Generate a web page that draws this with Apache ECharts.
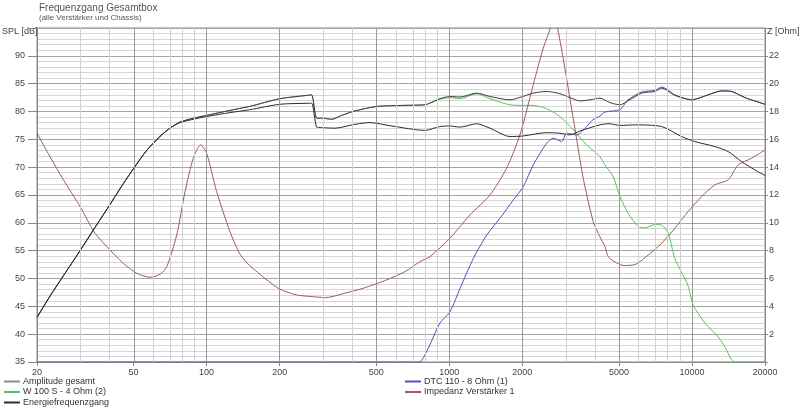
<!DOCTYPE html>
<html><head><meta charset="utf-8">
<script src="https://cdn.jsdelivr.net/npm/echarts@6/dist/echarts.min.js"></script>
<style>html,body{margin:0;padding:0;background:#fff}#c{width:800px;height:410px}</style>
</head><body><div id="c"></div>
<script>
const FONT = "'Liberation Sans', Arial, sans-serif";

// Axis tick labels / grid lines (Hz)
const xLabelFreqs = [20, 50, 100, 200, 500, 1000, 2000, 5000, 10000, 20000];
const gridMajorFreqs = [50, 100, 200, 500, 1000, 2000, 5000, 10000];
const gridMinorFreqs = [30, 40, 60, 70, 80, 90, 300, 400, 600, 700, 800, 900, 3000, 4000, 6000, 7000, 8000, 9000];

// Amplitude gesamt (dB)
const ampFreq = [20, 22.6, 25.7, 30.1, 34.7, 40, 45.3, 50.1, 56.6, 64.2, 70.6, 77.7, 88.1, 100, 124.8, 150, 200.6, 266, 271, 284, 290, 300, 327.6, 360, 408.7, 502, 650, 794, 832, 915, 1006, 1107, 1297, 1471, 1778, 2012, 2212, 2519, 2857, 3142, 3455, 3800, 4175, 4592, 5050, 5447, 6202, 7036, 7500, 8507, 9972, 11668, 13250, 14570, 16530, 20000];
const ampValues = [43.0, 46.8, 50.5, 55.0, 59.2, 63.3, 67.0, 69.8, 73.0, 75.5, 77.0, 78.1, 78.8, 79.3, 80.2, 80.9, 82.3, 82.95, 83.0, 78.8, 78.8, 78.8, 78.6, 79.3, 80.1, 80.9, 81.1, 81.2, 81.5, 82.3, 82.7, 82.6, 83.3, 82.7, 82.1, 82.7, 83.3, 83.6, 83.2, 82.5, 81.9, 82.1, 82.4, 81.6, 81.2, 81.9, 83.3, 83.6, 84.2, 82.9, 82.1, 83.0, 83.7, 83.6, 82.5, 81.3];

// Energiefrequenzgang (dB)
const energyFreq = [20, 22.6, 25.7, 30.1, 34.7, 40, 45.3, 50.1, 56.6, 64.2, 70.6, 77.7, 88.1, 100, 124.8, 150, 200.6, 266, 271, 284, 290, 300, 338, 408.7, 471, 579, 794, 915, 1006, 1107, 1297, 1471, 1778, 2012, 2519, 2857, 3142, 3455, 4175, 4548, 5050, 5877, 7500, 9068, 10285, 12432, 14111, 16017, 18172, 20000];
const energyValues = [43.0, 46.8, 50.5, 55.0, 59.2, 63.3, 67.0, 69.8, 73.0, 75.5, 77.0, 78.0, 78.6, 79.1, 79.8, 80.3, 81.3, 81.48, 81.5, 77.2, 77.15, 77.1, 77.0, 77.7, 78.0, 77.4, 76.6, 77.3, 77.4, 77.2, 77.8, 77.0, 75.5, 75.6, 76.2, 76.1, 75.8, 76.5, 77.6, 77.8, 77.5, 77.6, 77.3, 75.5, 74.6, 73.7, 72.8, 71.0, 69.5, 68.5];

// W 100 S - 4 Ohm (2) (dB)
const w100Freq = [20, 22.6, 25.7, 30.1, 34.7, 40, 45.3, 50.1, 56.6, 64.2, 70.6, 77.7, 88.1, 100, 124.8, 150, 200.6, 266, 271, 284, 290, 300, 327.6, 360, 408.7, 502, 650, 794, 832, 915, 1006, 1107, 1297, 1471, 1778, 2012, 2212, 2519, 2857, 3243, 3681, 3982, 4175, 4379, 4738, 5050, 5467, 6006, 6402, 7036, 7500, 7989, 8507, 9620, 10120, 11310, 12830, 13670, 14570, 15030, 20000];
const w100Values = [43.0, 46.8, 50.5, 55.0, 59.2, 63.3, 67.0, 69.8, 73.0, 75.5, 77.0, 78.1, 78.8, 79.3, 80.2, 80.9, 82.3, 82.95, 83.0, 78.8, 78.8, 78.8, 78.6, 79.3, 80.1, 80.9, 81.1, 81.2, 81.5, 82.2, 82.5, 82.3, 83.2, 82.3, 81.2, 81.1, 81.1, 80.5, 79.1, 76.7, 74.0, 72.7, 71.9, 70.4, 68.3, 64.7, 61.7, 59.3, 59.1, 59.7, 59.6, 58.1, 53.6, 48.8, 45.2, 42.0, 39.5, 37.7, 35.4, 35.0, 35.0];

// DTC 110 - 8 Ohm (1) (dB)
const dtcFreq = [20, 740, 768, 832, 915, 1006, 1107, 1256, 1426, 1617, 1835, 2017, 2218, 2519, 2682, 2904, 3045, 3348, 3681, 3908, 4175, 4379, 5050, 5271, 5447, 6202, 7036, 7500, 8507, 9972, 11668, 13250, 14570, 16530, 20000];
const dtcValues = [35, 35, 35.2, 38.1, 42.0, 44.0, 48.2, 53.6, 57.8, 60.8, 64.1, 66.5, 70.4, 74.3, 75.2, 74.6, 76.1, 75.8, 77.3, 78.5, 79.2, 79.9, 80.3, 81.3, 82.1, 83.5, 83.8, 84.4, 83.0, 82.1, 83.0, 83.7, 83.6, 82.5, 81.3];

// Impedanz Verstärker 1 (Ohm)
const impFreq = [20, 22.6, 25.7, 30.1, 34.7, 40, 45.3, 51.5, 58.4, 64.2, 68.5, 75.3, 81.5, 88.1, 94.5, 100, 110, 124.8, 137.3, 150, 162, 180, 200.6, 235, 293, 307.6, 377.8, 442, 552, 656.5, 757, 832, 1006, 1217, 1471, 1723, 1955, 2218, 2439, 2599, 2699, 2800, 2948, 3243, 3565, 3919, 4175, 4379, 4549, 5271, 5877, 6606, 7500, 8507, 9647, 10960, 12432, 14111, 15510, 17620, 20000];
const impValues = [16.44, 14.76, 13.09, 11.17, 9.25, 8.05, 7.1, 6.38, 6.09, 6.3, 6.85, 9.13, 12.24, 14.64, 15.6, 15.0, 12.24, 9.37, 7.75, 6.95, 6.45, 5.8, 5.23, 4.82, 4.65, 4.62, 4.98, 5.3, 5.9, 6.49, 7.21, 7.57, 8.89, 10.57, 12.0, 13.93, 16.32, 19.92, 22.55, 23.9, 25.0, 23.9, 21.8, 17.5, 13.2, 10.09, 9.0, 8.3, 7.5, 6.93, 7.03, 7.69, 8.53, 9.61, 10.81, 11.88, 12.73, 13.09, 14.16, 14.64, 15.24];

const COLORS = {
  amp: '#3c3c3c', ampLegend: '#8c8c8c', energy: '#2c2c2c',
  w100: '#58c058', dtc: '#5050b4', imp: '#a05a5a'
};

const lg = Math.log10;
function pairs(freqs, vals) { return freqs.map((f, i) => [lg(f), vals[i]]); }

const chart = echarts.init(document.getElementById('c'), null, { renderer: 'canvas' });

const gridLines = []
  .concat(gridMinorFreqs.map(f => ({ xAxis: lg(f), lineStyle: { color: '#d0d0d0', width: 1, type: 'solid' } })))
  .concat(gridMajorFreqs.map(f => ({ xAxis: lg(f), lineStyle: { color: '#9a9a9a', width: 1, type: 'solid' } })));

function lineSeries(name, data, color, z, yIdx) {
  return {
    name, type: 'line', data, yAxisIndex: yIdx || 0,
    symbol: 'none', showSymbol: false, smooth: 0.25, z,
    lineStyle: { color, width: 1 }, itemStyle: { color },
    emphasis: { disabled: true }, animation: false, clip: true
  };
}

const legendBase = {
  top: 377, orient: 'vertical', itemGap: 1.5, itemWidth: 16, itemHeight: 2, icon: 'rect', padding: 0,
  selectedMode: false,
  textStyle: { fontSize: 9, fontFamily: FONT, color: '#333', padding: [0, 0, 0, -2] }
};

const option = {
  animation: false,
  backgroundColor: '#ffffff',
  textStyle: { fontFamily: FONT },
  title: [
    { text: 'Frequenzgang Gesamtbox', left: 39, top: 3, padding: 0,
      textStyle: { fontSize: 10, fontWeight: 'normal', color: '#555', fontFamily: FONT } },
    { text: '(alle Verstärker und Chassis)', left: 39, top: 14, padding: 0,
      textStyle: { fontSize: 8, fontWeight: 'normal', color: '#555', fontFamily: FONT } }
  ],
  graphic: [
    { type: 'text', left: 2, top: 27, style: { text: 'SPL [dB]', fill: '#444', font: '9px ' + FONT } },
    { type: 'text', left: 767, top: 27, style: { text: 'Z [Ohm]', fill: '#444', font: '9px ' + FONT } }
  ],
  grid: { left: 37, right: 35, top: 28, bottom: 48, show: true, borderColor: '#8a8a8a', borderWidth: 1, backgroundColor: 'transparent' },
  xAxis: {
    type: 'value', min: lg(20), max: lg(20000),
    axisLine: { show: true, onZero: false, lineStyle: { color: '#888' } },
    axisTick: { show: true, customValues: xLabelFreqs.map(lg), length: 4, lineStyle: { color: '#888' } },
    axisLabel: { customValues: xLabelFreqs.map(lg), formatter: v => String(Math.round(Math.pow(10, v))),
      color: '#444', fontSize: 9, fontFamily: FONT, margin: 6 },
    splitLine: { show: false }
  },
  yAxis: [
    { type: 'value', min: 35, max: 95, interval: 5, position: 'left',
      axisLine: { show: true, lineStyle: { color: '#888' } },
      axisTick: { show: true, length: 9, lineStyle: { color: '#888' } },
      axisLabel: { formatter: v => (v === 95 ? '' : String(v)), color: '#444', fontSize: 9, fontFamily: FONT, margin: 12 },
      splitLine: { show: true, lineStyle: { color: '#a4a4a4', width: 1 } },
      minorTick: { show: false, splitNumber: 5 },
      minorSplitLine: { show: true, lineStyle: { color: '#d6d6d6', width: 1 } }
    },
    { type: 'value', min: 0, max: 24, interval: 2, position: 'right',
      axisLine: { show: true, lineStyle: { color: '#888' } },
      axisTick: { show: true, length: 3, lineStyle: { color: '#888' } },
      axisLabel: { formatter: v => ((v === 0 || v === 24) ? '' : String(v)), color: '#444', fontSize: 9, fontFamily: FONT, margin: 4 },
      splitLine: { show: false }
    }
  ],
  legend: [
    Object.assign({}, legendBase, { left: 4,
      data: [
        { name: 'Amplitude gesamt', itemStyle: { color: COLORS.ampLegend } },
        { name: 'W 100 S - 4 Ohm (2)', itemStyle: { color: COLORS.w100 } },
        { name: 'Energiefrequenzgang', itemStyle: { color: COLORS.energy } }
      ] }),
    Object.assign({}, legendBase, { left: 405,
      data: [
        { name: 'DTC 110 - 8 Ohm (1)', itemStyle: { color: COLORS.dtc } },
        { name: 'Impedanz Verstärker 1', itemStyle: { color: COLORS.imp } }
      ] })
  ],
  series: [
    { name: '_grid', type: 'line', data: [], z: 1, silent: true,
      markLine: { silent: true, symbol: ['none', 'none'], label: { show: false }, animation: false, data: gridLines } },
    lineSeries('W 100 S - 4 Ohm (2)', pairs(w100Freq, w100Values), COLORS.w100, 2),
    lineSeries('DTC 110 - 8 Ohm (1)', pairs(dtcFreq, dtcValues), COLORS.dtc, 2),
    lineSeries('Impedanz Verstärker 1', pairs(impFreq, impValues), COLORS.imp, 2, 1),
    lineSeries('Amplitude gesamt', pairs(ampFreq, ampValues), COLORS.amp, 3),
    lineSeries('Energiefrequenzgang', pairs(energyFreq, energyValues), COLORS.energy, 3)
  ]
};
chart.setOption(option);
</script>
</body></html>
